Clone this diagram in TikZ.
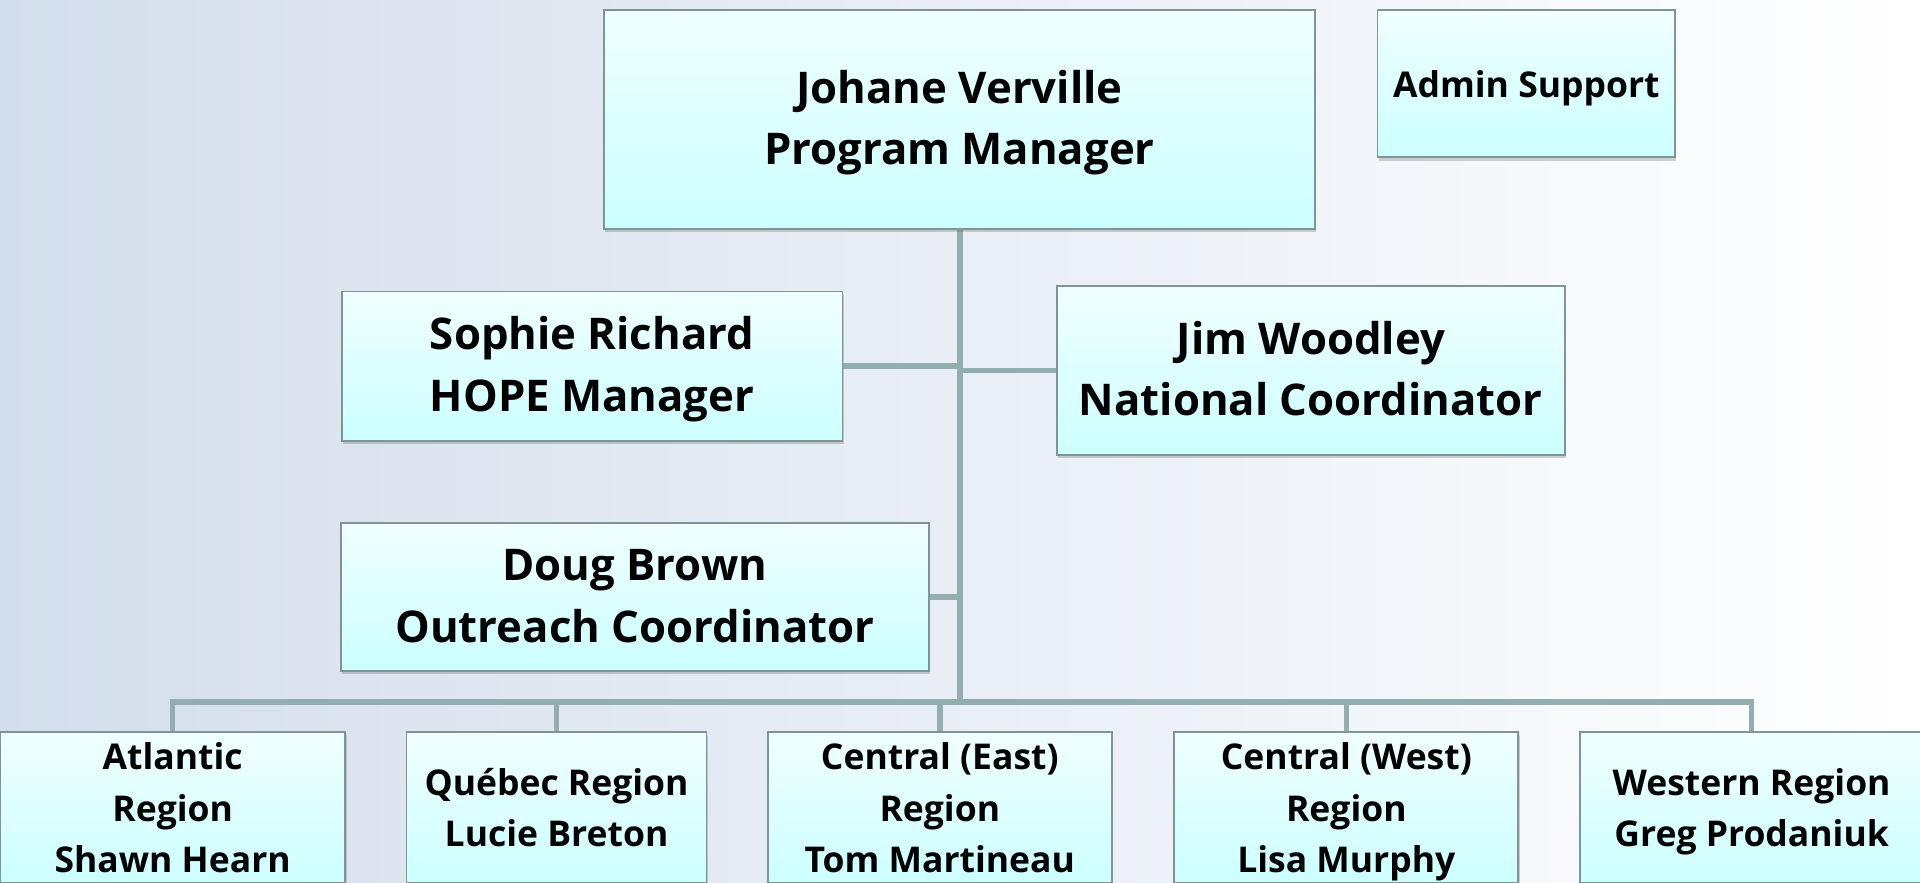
\documentclass[tikz,border=0pt]{standalone}
\usepackage{fontspec}
\setmainfont{Open Sans}
\usetikzlibrary{shadows}
\definecolor{bgleft}{HTML}{D3DEEC}
\definecolor{boxtop}{HTML}{F0FFFF}
\definecolor{boxbot}{HTML}{CCFFFF}
\definecolor{boxline}{HTML}{7F9595}
\definecolor{linkcol}{HTML}{93AEB1}
\newcommand\tophi{1.06em}
\newcommand\linetop{\rule{0pt}{\tophi}}
\newcommand\linebot{\rule[-0.3em]{0pt}{0.3em}}
\tikzset{
  box/.style={rectangle, draw=boxline, line width=0.8pt, top color=boxtop, bottom color=boxbot,
    drop shadow={shadow xshift=0.6pt, shadow yshift=-1.6pt, opacity=0.3, fill=black!60},
    align=center, inner sep=0pt},
  bigtext/.style={font=\fontsize{20.3}{28.5}\selectfont\bfseries\renewcommand\tophi{0.96em}},
  smalltext/.style={font=\fontsize{16.5}{23.9}\selectfont\bfseries},
  link/.style={draw=linkcol, line width=2.6pt}
}
\begin{document}
\begin{tikzpicture}[x=0.02cm, y=-0.02cm]
  \shade[left color=bgleft, right color=white] (0,0) rectangle (1568,721);
  \useasboundingbox (0,0) rectangle (1568,721);
  \clip (0,0) rectangle (1568,721);
  \coordinate (bus) at (784,573.5);
  \draw[link] (784,187) -- (bus);
  \node[box, bigtext, minimum width=11.62cm, minimum height=3.58cm] (pm) at (783.5,97.5) {\linetop Johane Verville\\Program Manager\linebot};
  \node[box, smalltext, minimum width=4.86cm, minimum height=2.41cm] (admin) at (1246.5,68.2) {\linetop Admin Support\linebot};
  \node[box, bigtext, minimum width=8.18cm, minimum height=2.44cm] (sophie) at (483.5,299) {\linetop Sophie Richard\\HOPE Manager\linebot};
  \node[box, bigtext, minimum width=8.3cm, minimum height=2.76cm] (jim) at (1070.5,302.5) {\linetop Jim Woodley\\National Coordinator\linebot};
  \node[box, bigtext, minimum width=9.6cm, minimum height=2.41cm] (doug) at (518.5,487.5) {\linetop Doug Brown\\Outreach Coordinator\linebot};
  \node[box, smalltext, minimum width=5.64cm, minimum height=2.46cm] (atl) at (141,659.5) {\linetop Atlantic\\Region\\Shawn Hearn\linebot};
  \node[box, smalltext, minimum width=4.9cm, minimum height=2.46cm] (queb) at (454.5,659.5) {\linetop Québec Region\\Lucie Breton\linebot};
  \node[box, smalltext, minimum width=5.62cm, minimum height=2.46cm] (ceast) at (767.5,659.5) {\linetop Central (East)\\Region\\Tom Martineau\linebot};
  \node[box, smalltext, minimum width=5.62cm, minimum height=2.46cm] (cwest) at (1099.5,659.5) {\linetop Central (West)\\Region\\Lisa Murphy\linebot};
  \node[box, smalltext, minimum width=5.62cm, minimum height=2.46cm] (west) at (1430.5,659.5) {\linetop Western Region\\Greg Prodaniuk\linebot};
  \draw[link] (sophie.east) -- (sophie.east -| bus);
  \draw[link] (jim.west) -- (jim.west -| bus);
  \draw[link] (doug.east) -- (doug.east -| bus);
  \draw[link] (atl.north) |- (bus) -| (west.north);
  \foreach \n in {queb,ceast,cwest}
    \draw[link] (\n.north) -- (\n.north |- bus);
\end{tikzpicture}
\end{document}
